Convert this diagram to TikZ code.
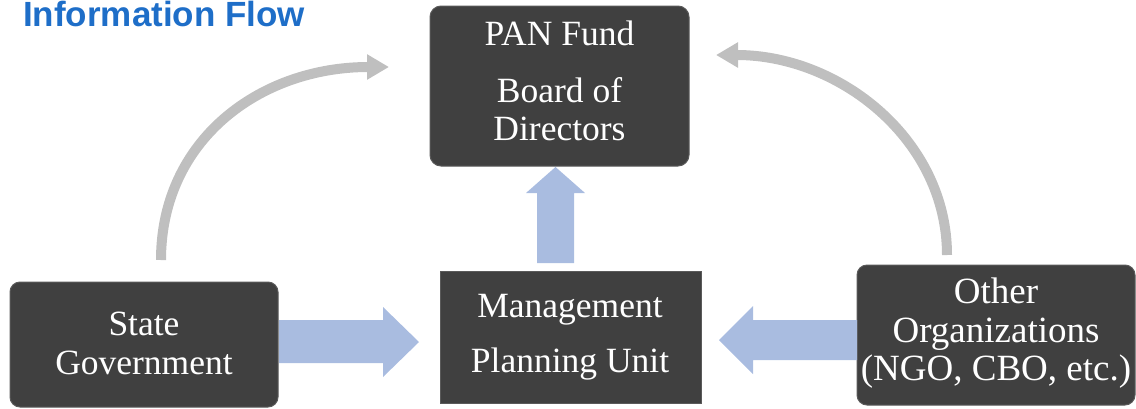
\documentclass[tikz,border=0pt]{standalone}
\usepackage{fontspec}
\setmainfont{Liberation Serif}
\newfontfamily\titlefont{Liberation Sans}
\usetikzlibrary{arrows.meta}
\definecolor{boxfill}{RGB}{64,64,64}
\definecolor{boxline}{RGB}{90,90,90}
\definecolor{flowblue}{RGB}{169,188,224}
\definecolor{curvegray}{RGB}{191,191,191}
\definecolor{titleblue}{RGB}{30,110,200}
\tikzset{
  darkbox/.style={draw=boxline, line width=1pt, fill=boxfill, rounded corners=11pt, inner sep=0pt},
  boxtext/.style={text=white, font=\fontsize{35.5}{38}\selectfont, anchor=base, inner sep=0pt},
  bigboxtext/.style={boxtext, font=\fontsize{37}{39}\selectfont},
  blockarrow/.style={fill=flowblue, draw=none},
  curvearrow/.style={draw=curvegray, line width=10pt, -{Triangle[length=22pt,width=24pt]}},
}
\begin{document}
\begin{tikzpicture}[x=1pt,y=-1pt]
\useasboundingbox (0,0) rectangle (1136,408);
% title
\node[anchor=base west, inner sep=0pt, text=titleblue, font=\titlefont\bfseries\fontsize{35}{40}\selectfont] (title) at (23,26.5) {Information Flow};
% boxes
\node[darkbox, minimum width=259pt, minimum height=160pt] (pan) at (559.5,86) {};
\node[darkbox, rounded corners=10pt, minimum width=268pt, minimum height=125pt] (sg) at (144,344.5) {};
\node[darkbox, sharp corners, minimum width=261pt, minimum height=132pt] (mpu) at (570.5,337) {};
\node[darkbox, rounded corners=10pt, minimum width=278pt, minimum height=140pt] (oo) at (996,335) {};
% texts
\node[boxtext] (panA) at (559.5,45) {PAN Fund};
\node[boxtext] (panB) at (559.5,102) {Board of};
\node[boxtext] (panC) at (559.5,140) {Directors};
\node[boxtext] (sgA) at (144,335) {State};
\node[boxtext] (sgB) at (144,374) {Government};
\node[boxtext] (mpA) at (570,317) {Management};
\node[boxtext] (mpB) at (570,372) {Planning Unit};
\node[bigboxtext] (ooA) at (996,303) {Other};
\node[bigboxtext] (ooB) at (996,342) {Organizations};
\node[bigboxtext] (ooC) at (996,380) {(NGO, CBO, etc.)};
% block arrows
\fill[blockarrow] (279,320) -- (383,320) -- (383,307) -- (419,342) -- (383,377) -- (383,363) -- (279,363) -- cycle;
\fill[blockarrow] (857,320) -- (753,320) -- (753,306) -- (719,340) -- (753,374) -- (753,360) -- (857,360) -- cycle;
\fill[blockarrow] (537,263) -- (537,193) -- (526,193) -- (555.5,167) -- (585,193) -- (574,193) -- (574,263) -- cycle;
% curved arrows
\coordinate (lstart) at (161,260);
\coordinate (lend) at (389,67);
\coordinate (rstart) at (947,255);
\coordinate (rend) at (716,55);
\draw[curvearrow] (lstart) .. controls (161,140) and (260,67) .. (lend);
\draw[curvearrow] (rstart) .. controls (947,140) and (840,55) .. (rend);
\end{tikzpicture}
\end{document}
